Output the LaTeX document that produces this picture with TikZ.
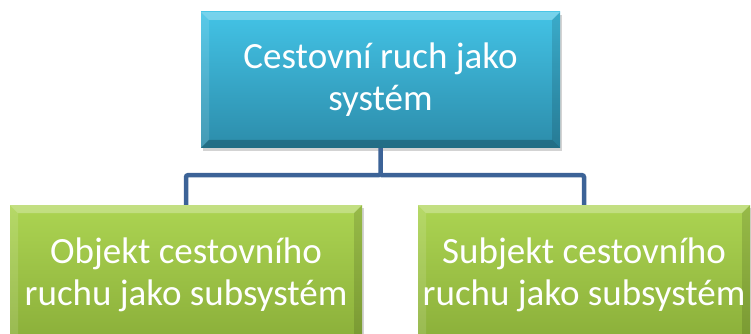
\documentclass[tikz,border=0pt]{standalone}
\usepackage{fontspec}
\setmainfont{Carlito}
\usepackage{tikz}
\usetikzlibrary{positioning,shadows}
\definecolor{topcyan}{HTML}{43C3E6}
\definecolor{botcyan}{HTML}{2C8CAA}
\definecolor{topgreen}{HTML}{ACD452}
\definecolor{botgreen}{HTML}{8AAE39}
\definecolor{linkblue}{HTML}{3C6397}

\begin{document}
\begin{tikzpicture}[
    x=1pt, y=1pt,
    bevel/.style={path picture={
      \fill[white, opacity=0.28] (path picture bounding box.north west) -- (path picture bounding box.north east)
        -- ([xshift=-8pt,yshift=-8pt]path picture bounding box.north east) -- ([xshift=8pt,yshift=-8pt]path picture bounding box.north west) -- cycle;
      \fill[white, opacity=0.12] (path picture bounding box.north west) -- ([xshift=8pt,yshift=-8pt]path picture bounding box.north west)
        -- ([xshift=8pt,yshift=8pt]path picture bounding box.south west) -- (path picture bounding box.south west) -- cycle;
      \fill[black, opacity=0.12] (path picture bounding box.north east) -- ([xshift=-8pt,yshift=-8pt]path picture bounding box.north east)
        -- ([xshift=-8pt,yshift=8pt]path picture bounding box.south east) -- (path picture bounding box.south east) -- cycle;
      \fill[black, opacity=0.22] (path picture bounding box.south west) -- (path picture bounding box.south east)
        -- ([xshift=-8pt,yshift=8pt]path picture bounding box.south east) -- ([xshift=8pt,yshift=8pt]path picture bounding box.south west) -- cycle;
    }},
    sysbox/.style={bevel, align=center, text=white, font=\fontsize{37}{42}\selectfont, inner sep=0pt,
      drop shadow={opacity=0.35, shadow xshift=2pt, shadow yshift=-3pt}},
    mainbox/.style={sysbox, top color=topcyan, bottom color=botcyan, minimum width=359pt, minimum height=136pt},
    subbox/.style={sysbox, top color=topgreen, bottom color=botgreen, minimum height=140pt},
    link/.style={draw=linkblue, line width=4.5pt, rounded corners=2pt}
  ]
    \useasboundingbox (0,0) rectangle (751,334);
    \clip (0,0) rectangle (751,334);
    \node[mainbox] (system) at (380.5,254) {Cestovní ruch jako\\systém};
    \node[subbox, minimum width=352pt, anchor=north] (object) at (186,129) {Objekt cestovního\\ruchu jako subsystém};
    \node[subbox, minimum width=332pt, anchor=north] (subject) at (584,129) {Subjekt cestovního\\ruchu jako subsystém};
    \draw[link] (system.south) -- ++(0,-27) coordinate (fork) -| (object.north);
    \draw[link] (fork) -| (subject.north);
  \end{tikzpicture}
\end{document}
